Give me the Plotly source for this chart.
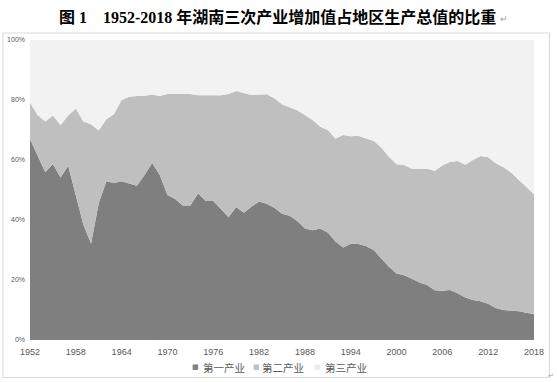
import plotly.graph_objects as go

years = list(range(1952, 2019))

# share of primary industry (%)
primary = [67.0, 61.7, 55.9, 58.7, 54.2, 58.1, 48.4, 38.3, 32.2, 45.6,
           52.9, 52.3, 52.9, 52.1, 51.4, 55.0, 59.0, 55.0, 48.3, 47.0,
           44.8, 44.8, 48.9, 46.3, 46.3, 43.7, 40.9, 44.3, 42.4, 44.4,
           46.2, 45.4, 44.1, 42.1, 41.4, 39.7, 37.2, 36.6, 37.2, 35.8,
           32.8, 30.8, 32.1, 32.0, 31.3, 30.0, 27.2, 24.4, 22.2, 21.6,
           20.4, 19.2, 18.3, 16.6, 16.4, 16.7, 15.6, 14.2, 13.3, 12.9,
           12.1, 10.7, 10.0, 9.8, 9.6, 9.1, 8.6]

# primary + secondary cumulative share (%)
prim_sec = [79.2, 75.0, 72.8, 74.8, 71.7, 74.8, 77.2, 72.8, 71.9, 69.8,
            73.6, 75.3, 80.0, 81.1, 81.3, 81.4, 81.8, 81.3, 82.0, 82.0,
            81.8, 82.0, 81.6, 81.7, 81.6, 81.6, 82.0, 83.0, 82.4, 81.7,
            81.8, 81.9, 80.6, 78.6, 77.6, 76.6, 75.0, 73.3, 71.1, 70.0,
            67.2, 68.3, 67.9, 68.1, 67.2, 66.4, 64.2, 61.1, 58.6, 58.3,
            57.1, 57.1, 57.1, 56.4, 58.2, 59.3, 59.7, 58.4, 60.0, 61.3,
            60.9, 58.9, 57.6, 55.8, 53.3, 51.1, 48.6]

secondary = [round(t - p, 1) for t, p in zip(prim_sec, primary)]
tertiary = [round(100 - t, 1) for t in prim_sec]

series_names = ["第一产业", "第二产业", "第三产业"]
series_values = [primary, secondary, tertiary]
colors = ["#7F7F7F", "#BFBFBF", "#F2F2F2"]
legend_marker_colors = ["#7F7F7F", "#BFBFBF", "#EBEBEB"]

tick_years = list(range(1952, 2019, 6))
y_ticks = [0, 20, 40, 60, 80, 100]

title_text = "图 1　1952-2018 年湖南三次产业增加值占地区生产总值的比重"

fig = go.Figure()
for name, vals, col in zip(series_names, series_values, colors):
    fig.add_trace(go.Scatter(
        x=years, y=vals, name=name, mode="lines",
        stackgroup="one", line=dict(width=0, color=col),
        fillcolor=col, showlegend=False, hoverinfo="skip"))

W, H = 557, 382
L, R, T, B = 30, 23, 40, 42
pw, ph = W - L - R, H - T - B

def px(xp):
    return (xp - L) / pw

def py(yp):
    return (H - B - yp) / ph

fig.add_shape(type="rect", xref="paper", yref="paper",
              x0=px(3), x1=px(549.5), y0=py(377.5), y1=py(33),
              line=dict(color="#D9D9D9", width=1), fillcolor="rgba(0,0,0,0)",
              layer="below")

fig.add_annotation(text=title_text, xref="paper", yref="paper",
                   x=px(277), y=py(17), xanchor="center", yanchor="middle",
                   showarrow=False,
                   font=dict(family="Liberation Serif, Noto Sans CJK SC", size=16,
                             color="#000000", weight="bold"))
fig.add_annotation(text="↵", xref="paper", yref="paper",
                   x=px(498), y=py(19), xanchor="left", yanchor="middle",
                   showarrow=False, font=dict(size=9, color="#A0A0A0"))
fig.add_annotation(text="↵", xref="paper", yref="paper",
                   x=px(556), y=py(375), xanchor="right", yanchor="middle",
                   showarrow=False, font=dict(size=7, color="#A0A0A0"))

# legend built as marker + text entries
legend_marker_x = [195, 256.5, 317.5]
legend_text_x = [201, 260, 323]
for name, mcol, mx, tx in zip(series_names, legend_marker_colors,
                              legend_marker_x, legend_text_x):
    fig.add_annotation(
        text="■", xref="paper", yref="paper", x=px(mx), y=py(367.5),
        xanchor="center", yanchor="middle", showarrow=False,
        font=dict(family="DejaVu Sans", size=7, color=mcol))
    fig.add_annotation(
        text=name, xref="paper", yref="paper", x=px(tx), y=py(367.5),
        xanchor="left", yanchor="middle", showarrow=False,
        font=dict(family="Noto Sans CJK SC", size=10.5, color="#595959"))

fig.update_layout(
    width=W, height=H, autosize=False,
    margin=dict(l=L, r=R, t=T, b=B),
    paper_bgcolor="white", plot_bgcolor="white",
    font=dict(family="Liberation Sans, Noto Sans CJK SC", color="#595959"),
    showlegend=False,
    xaxis=dict(range=[1952, 2018], tickvals=tick_years,
               ticktext=[str(y) for y in tick_years],
               showgrid=False, zeroline=False, showline=False, ticks="",
               ticklabelstandoff=5, automargin=False,
               tickfont=dict(size=9, color="#595959"), fixedrange=True),
    yaxis=dict(range=[0, 100], tickvals=y_ticks,
               ticktext=[f"{v}%" for v in y_ticks],
               showgrid=False, zeroline=False, showline=False, ticks="",
               ticklabelstandoff=4, automargin=False,
               tickfont=dict(size=7, color="#595959"), fixedrange=True),
)

fig.write_html("out.html", config={"displayModeBar": False},
               post_script="document.body.style.margin='0';")
